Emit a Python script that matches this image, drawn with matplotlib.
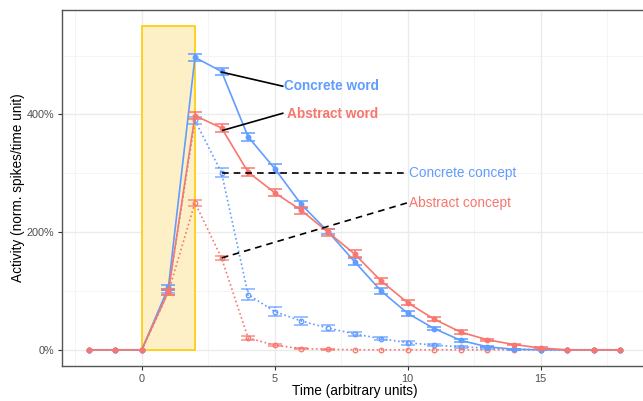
import matplotlib
matplotlib.use("Agg")
import matplotlib.pyplot as plt
from matplotlib.patches import Rectangle
from matplotlib.ticker import FuncFormatter, MultipleLocator

plt.rcParams['font.family'] = ['Liberation Sans', 'DejaVu Sans']

# time steps
time = list(range(-2, 19))

# activity in %
concrete_word = [0, 0, 0, 106, 497, 473, 362, 308, 247, 201, 150, 100, 62, 36, 16, 5, 1, 0, 0, 0, 0]
abstract_word = [0, 0, 0, 99, 398, 377, 302, 267, 237, 200, 163, 117, 80, 52, 30, 17, 9, 3, 0, 0, 0]
concrete_concept = [0, 0, 0, 100, 390, 301, 94, 65, 49, 37, 27, 19, 12, 8, 5, 3, 1, 0, 0, 0, 0]
abstract_concept = [0, 0, 0, 98, 250, 156, 20, 8, 2, 1, 0, 0, 0, 0, 0, 0, 0, 0, 0, 0, 0]

concrete_word_err = [0, 0, 0, 5, 6, 6, 7, 7, 6, 5, 6, 5, 4, 3, 2, 1, 1, 0, 0, 0, 0]
abstract_word_err = [0, 0, 0, 5, 6, 6, 7, 6, 6, 6, 6, 5, 4, 3, 3, 2, 1, 1, 0, 0, 0]
concrete_concept_err = [0, 0, 0, 4, 6, 8, 9, 8, 6, 5, 4, 3, 3, 2, 2, 1, 1, 0, 0, 0, 0]
abstract_concept_err = [0, 0, 0, 4, 5, 3, 3, 2, 1, 1, 0, 0, 0, 0, 0, 0, 0, 0, 0, 0, 0]

BLUE = '#619CFF'
RED = '#F8766D'

fig = plt.figure(figsize=(6.43, 4.01), dpi=100)
ax = fig.add_axes([62 / 643, 35 / 401, 585 / 643, 356 / 401])

# stimulus window
ax.add_patch(Rectangle((0, 0), 2, 550, facecolor='#fdf0c6', edgecolor='#ffcc00',
                       linewidth=1.2, zorder=1))

dotted = (0, (1, 1.6))
series = [
    (concrete_concept, concrete_concept_err, BLUE, dotted, 'none'),
    (abstract_concept, abstract_concept_err, RED, dotted, 'none'),
    (concrete_word, concrete_word_err, BLUE, '-', None),
    (abstract_word, abstract_word_err, RED, '-', None),
]
for vals, errs, col, ls, mfc in series:
    ax.plot(time, vals, color=col, linestyle=ls, linewidth=1.2, marker='o', markersize=3.3,
            markerfacecolor=mfc if mfc else col, markeredgecolor=col, markeredgewidth=0.9,
            zorder=3)
    xs = [t for t, e in zip(time, errs) if e > 0]
    ys = [v for v, e in zip(vals, errs) if e > 0]
    es = [e for e in errs if e > 0]
    eb = ax.errorbar(xs, ys, yerr=es, fmt='none', ecolor=col, elinewidth=1.1,
                     capsize=5, capthick=1.1, zorder=3)
    if ls != '-':
        for lc in eb[2]:
            lc.set_linestyle(dotted)
        for cap in eb[1]:
            cap.set_alpha(0.8)

# annotations
ax.plot([3, 5.3], [472, 448], color='black', linewidth=1.2, zorder=4)
ax.plot([3.05, 5.3], [373, 402], color='black', linewidth=1.2, zorder=4)
ax.plot([3, 10], [300, 300], color='black', linewidth=1.2, linestyle=(0, (4, 3)), zorder=4)
ax.plot([3, 10], [156, 250], color='black', linewidth=1.2, linestyle=(0, (4, 3)), zorder=4)

ax.text(5.35, 448, 'Concrete word', color=BLUE, fontsize=9.8, fontweight='bold', va='center')
ax.text(5.45, 400, 'Abstract word', color=RED, fontsize=9.8, fontweight='bold', va='center')
ax.text(10.05, 300, 'Concrete concept', color=BLUE, fontsize=9.8, va='center')
ax.text(10.05, 250, 'Abstract concept', color=RED, fontsize=9.8, va='center')

ax.set_xlim(-3, 19)
ax.set_ylim(-27.5, 577.5)
ax.xaxis.set_major_locator(MultipleLocator(5))
ax.xaxis.set_minor_locator(MultipleLocator(2.5))
ax.yaxis.set_major_locator(MultipleLocator(200))
ax.yaxis.set_minor_locator(MultipleLocator(100))
ax.yaxis.set_major_formatter(FuncFormatter(lambda v, p: '%d%%' % v))

ax.grid(which='major', color='#ebebeb', linewidth=1.0, zorder=0)
ax.grid(which='minor', color='#f2f2f2', linewidth=0.6, zorder=0)
ax.set_axisbelow(True)
for s in ax.spines.values():
    s.set_color('#555555')
    s.set_linewidth(1.0)
ax.tick_params(which='major', length=3, color='#333333', labelsize=7.8, labelcolor='#4d4d4d',
               pad=2.5)
ax.tick_params(which='minor', length=0)

ax.set_xlabel('Time (arbitrary units)', fontsize=9.8, labelpad=0.5)
ax.set_ylabel('Activity (norm. spikes/time unit)', fontsize=9.8, labelpad=1.5)

fig.savefig('out.png', dpi=100)
